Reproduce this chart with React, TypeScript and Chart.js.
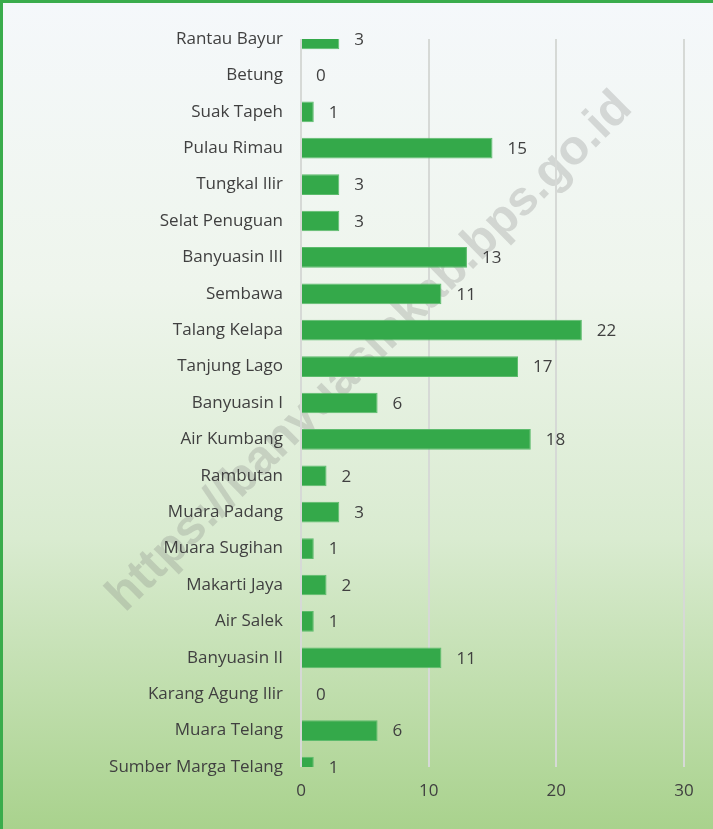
import React, { useEffect, useRef } from "react";
import { Chart, registerables } from "chart.js";

Chart.register(...registerables);

const categories = [
  "Rantau Bayur",
  "Betung",
  "Suak Tapeh",
  "Pulau Rimau",
  "Tungkal Ilir",
  "Selat Penuguan",
  "Banyuasin III",
  "Sembawa",
  "Talang Kelapa",
  "Tanjung Lago",
  "Banyuasin I",
  "Air Kumbang",
  "Rambutan",
  "Muara Padang",
  "Muara Sugihan",
  "Makarti Jaya",
  "Air Salek",
  "Banyuasin II",
  "Karang Agung Ilir",
  "Muara Telang",
  "Sumber Marga Telang",
];

const values = [3, 0, 1, 15, 3, 3, 13, 11, 22, 17, 6, 18, 2, 3, 1, 2, 1, 11, 0, 6, 1];

const xTicks = [0, 10, 20, 30];

const watermarkText = "https://banyuasinkab.bps.go.id";

const FONT = "'Open Sans', 'Noto Sans', sans-serif";

export default function App() {
  const canvasRef = useRef<HTMLCanvasElement | null>(null);

  useEffect(() => {
    document.body.style.margin = "0";
    const canvas = canvasRef.current;
    if (!canvas) return;

    const watermarkPlugin = {
      id: "watermark",
      beforeDraw(chart: any) {
        const ctx = chart.ctx;
        ctx.save();
        ctx.translate(370, 352);
        ctx.rotate((-44.7 * Math.PI) / 180);
        ctx.font = "bold 40px 'Liberation Sans', Arial, sans-serif";
        const w = ctx.measureText(watermarkText).width;
        const size = (40 * 716) / w;
        ctx.font = `bold ${size}px 'Liberation Sans', Arial, sans-serif`;
        ctx.fillStyle = "rgba(120,120,120,0.25)";
        ctx.textAlign = "center";
        ctx.textBaseline = "middle";
        ctx.fillText(watermarkText, 0, 0);
        ctx.restore();
      },
    };

    const labelPlugin = {
      id: "valueLabels",
      afterDatasetsDraw(chart: any) {
        const ctx = chart.ctx;
        const meta = chart.getDatasetMeta(0);
        ctx.save();
        ctx.font = `17px ${FONT}`;
        ctx.fillStyle = "#404040";
        ctx.textAlign = "left";
        ctx.textBaseline = "middle";
        meta.data.forEach((el: any, i: number) => {
          ctx.fillText(String(values[i]), el.x + 15, el.y + 1);
        });
        ctx.restore();
      },
    };

    const chart = new Chart(canvas, {
      type: "bar",
      data: {
        labels: categories,
        datasets: [
          {
            data: values,
            backgroundColor: "#34a94a",
            borderColor: "#5cbb6c",
            borderWidth: 1,
            categoryPercentage: 1,
            barPercentage: 0.57,
            clip: 0,
          } as any,
        ],
      },
      options: {
        indexAxis: "y",
        animation: false,
        responsive: false,
        maintainAspectRatio: false,
        layout: { padding: { top: 39, right: 29, left: 0, bottom: 0 } },
        plugins: {
          legend: { display: false },
          tooltip: { enabled: false },
        },
        scales: {
          x: {
            min: 0,
            max: 30,
            afterBuildTicks(scale: any) {
              scale.ticks = xTicks.map((v) => ({ value: v }));
            },
            afterFit(scale: any) {
              scale.height = 62;
            },
            grid: {
              color: "#d6d9d6",
              lineWidth: 2,
              drawTicks: false,
            },
            border: { display: false },
            ticks: {
              padding: 14,
              color: "#404040",
              font: { family: FONT, size: 17 },
            },
          },
          y: {
            offset: false,
            afterFit(scale: any) {
              scale.width = 301;
            },
            grid: { display: false, drawTicks: false },
            border: { display: false },
            ticks: {
              padding: 18,
              color: "#404040",
              font: { family: FONT, size: 17 },
              autoSkip: false,
            },
          },
        },
      },
      plugins: [watermarkPlugin, labelPlugin],
    });

    return () => chart.destroy();
  }, []);

  return (
    <div
      style={{
        position: "relative",
        width: 713,
        height: 829,
        background: "linear-gradient(to bottom, #f5f8fb 0%, #eef5ec 35%, #d9ebd0 65%, #a9d28d 100%)",
        overflow: "hidden",
      }}
    >
      <canvas
        ref={canvasRef}
        width={713}
        height={829}
        style={{ position: "absolute", left: 0, top: 0, width: 713, height: 829 }}
      />
      <div style={{ position: "absolute", left: 0, top: 0, width: 713, height: 3, background: "#3aac4c" }} />
      <div style={{ position: "absolute", left: 0, top: 0, width: 3, height: 829, background: "#3aac4c" }} />
    </div>
  );
}
